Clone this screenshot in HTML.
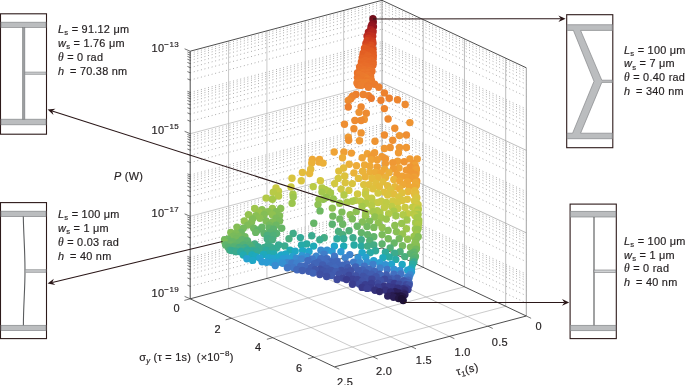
<!DOCTYPE html>
<html lang="en"><head><meta charset="utf-8"><title>Pareto front</title>
<style>
html,body{margin:0;padding:0;background:#fff}
body{width:685px;height:385px;overflow:hidden}
svg{display:block}
text{font-family:"Liberation Sans",Arial,Helvetica,sans-serif;font-size:10.9px;fill:#231f20;letter-spacing:0.26px;stroke:#231f20;stroke-width:0.18px}
.i{font-style:italic}
.th{font-family:"Liberation Serif","DejaVu Serif",serif;font-style:italic;font-size:11.5px}
.sb{font-size:7.6px}
.ex{font-size:8px;letter-spacing:0.4px}
.tl{font-size:11px}
.dot{stroke:#9a9a9a;stroke-width:0.9;stroke-dasharray:0.9 2.8;fill:none}
.g{stroke:#bdbdbd;stroke-width:0.8}
.gr{stroke:#a2a2a2;stroke-width:0.7}
.g2{stroke:#a8a8a8;stroke-width:0.6}
.g3{stroke:#8c8c8c;stroke-width:0.8}
.ax{stroke:#3a3a3a;stroke-width:0.9}
.tk{stroke:#3a3a3a;stroke-width:0.7;fill:none}
.bx{fill:#fff;stroke:#2d1a1a;stroke-width:1.1}
.ar{stroke:#2a1718;stroke-width:1.05}
</style></head><body>
<svg width="685" height="385" viewBox="0 0 685 385">
<rect width="685" height="385" fill="#fff"/>
<g id="grid">
<path class="dot" d="M190.2 80.04L382 29.14M190.2 72.78L382 21.88M190.2 67.62L382 16.72M190.2 63.62L382 12.72M190.2 60.35L382 9.45M190.2 57.59L382 6.69M190.2 55.2L382 4.3M190.2 53.09L382 2.19M190.2 92.47L382 41.57M190.2 121.31L382 70.41M190.2 114.04L382 63.14M190.2 108.89L382 57.99M190.2 104.89L382 53.99M190.2 101.62L382 50.72M190.2 98.86L382 47.96M190.2 96.47L382 45.57M190.2 94.35L382 43.45M190.2 162.58L382 111.68M190.2 155.31L382 104.41M190.2 150.15L382 99.25M190.2 146.16L382 95.26M190.2 142.89L382 91.99M190.2 140.13L382 89.23M190.2 137.73L382 86.83M190.2 135.62L382 84.72M190.2 175L382 124.1M190.2 203.84L382 152.94M190.2 196.58L382 145.68M190.2 191.42L382 140.52M190.2 187.42L382 136.52M190.2 184.15L382 133.25M190.2 181.39L382 130.49M190.2 179L382 128.1M190.2 176.89L382 125.99M190.2 245.11L382 194.21M190.2 237.84L382 186.94M190.2 232.69L382 181.79M190.2 228.69L382 177.79M190.2 225.42L382 174.52M190.2 222.66L382 171.76M190.2 220.27L382 169.37M190.2 218.15L382 167.25M190.2 257.53L382 206.63M190.2 286.38L382 235.48M190.2 279.11L382 228.21M190.2 273.95L382 223.05M190.2 269.96L382 219.06M190.2 266.69L382 215.79M190.2 263.93L382 213.03M190.2 261.53L382 210.63M190.2 259.42L382 208.52"/>
<path class="dot" d="M382 29.14L526.3 96.64M382 21.88L526.3 89.38M382 16.72L526.3 84.22M382 12.72L526.3 80.22M382 9.45L526.3 76.95M382 6.69L526.3 74.19M382 4.3L526.3 71.8M382 2.19L526.3 69.69M382 41.57L526.3 109.07M382 70.41L526.3 137.91M382 63.14L526.3 130.64M382 57.99L526.3 125.49M382 53.99L526.3 121.49M382 50.72L526.3 118.22M382 47.96L526.3 115.46M382 45.57L526.3 113.07M382 43.45L526.3 110.95M382 111.68L526.3 179.18M382 104.41L526.3 171.91M382 99.25L526.3 166.75M382 95.26L526.3 162.76M382 91.99L526.3 159.49M382 89.23L526.3 156.73M382 86.83L526.3 154.33M382 84.72L526.3 152.22M382 124.1L526.3 191.6M382 152.94L526.3 220.44M382 145.68L526.3 213.18M382 140.52L526.3 208.02M382 136.52L526.3 204.02M382 133.25L526.3 200.75M382 130.49L526.3 197.99M382 128.1L526.3 195.6M382 125.99L526.3 193.49M382 194.21L526.3 261.71M382 186.94L526.3 254.44M382 181.79L526.3 249.29M382 177.79L526.3 245.29M382 174.52L526.3 242.02M382 171.76L526.3 239.26M382 169.37L526.3 236.87M382 167.25L526.3 234.75M382 206.63L526.3 274.13M382 235.48L526.3 302.98M382 228.21L526.3 295.71M382 223.05L526.3 290.55M382 219.06L526.3 286.56M382 215.79L526.3 283.29M382 213.03L526.3 280.53M382 210.63L526.3 278.13M382 208.52L526.3 276.02"/>
<line x1="190.2" y1="133.73" x2="382" y2="82.83" class="g"/>
<line x1="382" y1="82.83" x2="526.3" y2="150.33" class="gr"/>
<line x1="190.2" y1="216.27" x2="382" y2="165.37" class="g"/>
<line x1="382" y1="165.37" x2="526.3" y2="232.87" class="gr"/>
<line x1="343.64" y1="10.48" x2="343.64" y2="258.08" class="g"/>
<line x1="343.64" y1="258.08" x2="487.94" y2="326.18" class="g2"/>
<line x1="305.28" y1="20.66" x2="305.28" y2="268.26" class="g"/>
<line x1="305.28" y1="268.26" x2="449.58" y2="336.36" class="g2"/>
<line x1="266.92" y1="30.84" x2="266.92" y2="278.44" class="g"/>
<line x1="266.92" y1="278.44" x2="411.22" y2="346.54" class="g2"/>
<line x1="228.56" y1="41.02" x2="228.56" y2="288.62" class="g"/>
<line x1="228.56" y1="288.62" x2="372.86" y2="356.72" class="g2"/>
<line x1="423.23" y1="19.59" x2="423.23" y2="267.36" class="gr"/>
<line x1="423.23" y1="267.36" x2="231.43" y2="318.26" class="g2"/>
<line x1="464.46" y1="38.87" x2="464.46" y2="286.81" class="gr"/>
<line x1="464.46" y1="286.81" x2="272.66" y2="337.71" class="g2"/>
<line x1="505.69" y1="58.16" x2="505.69" y2="306.27" class="gr"/>
<line x1="505.69" y1="306.27" x2="313.89" y2="357.17" class="g2"/>
<line x1="382" y1="0.3" x2="382" y2="247.9" class="g3"/>
<line x1="526.3" y1="67.8" x2="526.3" y2="316" class="g3"/>
<line x1="190.2" y1="51.2" x2="382" y2="0.3" class="ax"/>
<line x1="382" y1="0.3" x2="526.3" y2="67.8" class="ax"/>
<line x1="190.2" y1="298.8" x2="382" y2="247.9" class="ax"/>
<line x1="382" y1="247.9" x2="526.3" y2="316" class="ax"/>
<line x1="190.2" y1="298.8" x2="334.5" y2="366.9" class="ax"/>
<line x1="526.3" y1="316" x2="334.5" y2="366.9" class="ax"/>
<line x1="190.2" y1="51.2" x2="190.2" y2="298.8" class="ax"/>
<path class="tk" d="M190.2 51.2l-5.6 -2.4M190.2 80.04l-2.8 -1.2M190.2 72.78l-2.8 -1.2M190.2 67.62l-2.8 -1.2M190.2 63.62l-2.8 -1.2M190.2 60.35l-2.8 -1.2M190.2 57.59l-2.8 -1.2M190.2 55.2l-2.8 -1.2M190.2 53.09l-2.8 -1.2M190.2 92.47l-2.8 -1.2M190.2 121.31l-2.8 -1.2M190.2 114.04l-2.8 -1.2M190.2 108.89l-2.8 -1.2M190.2 104.89l-2.8 -1.2M190.2 101.62l-2.8 -1.2M190.2 98.86l-2.8 -1.2M190.2 96.47l-2.8 -1.2M190.2 94.35l-2.8 -1.2M190.2 133.73l-5.6 -2.4M190.2 162.58l-2.8 -1.2M190.2 155.31l-2.8 -1.2M190.2 150.15l-2.8 -1.2M190.2 146.16l-2.8 -1.2M190.2 142.89l-2.8 -1.2M190.2 140.13l-2.8 -1.2M190.2 137.73l-2.8 -1.2M190.2 135.62l-2.8 -1.2M190.2 175l-2.8 -1.2M190.2 203.84l-2.8 -1.2M190.2 196.58l-2.8 -1.2M190.2 191.42l-2.8 -1.2M190.2 187.42l-2.8 -1.2M190.2 184.15l-2.8 -1.2M190.2 181.39l-2.8 -1.2M190.2 179l-2.8 -1.2M190.2 176.89l-2.8 -1.2M190.2 216.27l-5.6 -2.4M190.2 245.11l-2.8 -1.2M190.2 237.84l-2.8 -1.2M190.2 232.69l-2.8 -1.2M190.2 228.69l-2.8 -1.2M190.2 225.42l-2.8 -1.2M190.2 222.66l-2.8 -1.2M190.2 220.27l-2.8 -1.2M190.2 218.15l-2.8 -1.2M190.2 257.53l-2.8 -1.2M190.2 286.38l-2.8 -1.2M190.2 279.11l-2.8 -1.2M190.2 273.95l-2.8 -1.2M190.2 269.96l-2.8 -1.2M190.2 266.69l-2.8 -1.2M190.2 263.93l-2.8 -1.2M190.2 261.53l-2.8 -1.2M190.2 259.42l-2.8 -1.2M190.2 298.8l-5.6 -2.4"/>
<path class="tk" d="M190.2 298.8l-5.8 1.6M231.43 318.26l-5.8 1.6M272.66 337.71l-5.8 1.6M313.89 357.17l-5.8 1.6M526.3 316l4.8 2.3M487.94 326.18l4.8 2.3M449.58 336.36l4.8 2.3M411.22 346.54l4.8 2.3M372.86 356.72l4.8 2.3M334.5 366.9l4.8 2.3"/>
</g>
<g id="scatter">
<circle cx="372.9" cy="18.8" r="3.7" fill="#720e1b"/>
<circle cx="373.3" cy="21.9" r="3.7" fill="#7c111d"/>
<circle cx="371.9" cy="24.6" r="3.7" fill="#8d141f"/>
<circle cx="373.4" cy="26.7" r="3.7" fill="#941620"/>
<circle cx="371.0" cy="26.9" r="3.7" fill="#961621"/>
<circle cx="370.8" cy="29.6" r="3.7" fill="#ab2021"/>
<circle cx="373.1" cy="31.7" r="3.7" fill="#b32620"/>
<circle cx="368.4" cy="32.1" r="3.7" fill="#ac2121"/>
<circle cx="370.8" cy="33.0" r="3.7" fill="#b62820"/>
<circle cx="369.3" cy="35.7" r="3.7" fill="#c2301f"/>
<circle cx="367.0" cy="36.1" r="3.7" fill="#ba2b20"/>
<circle cx="372.7" cy="36.2" r="3.7" fill="#c02f20"/>
<circle cx="371.3" cy="38.3" r="3.7" fill="#c4311f"/>
<circle cx="368.3" cy="38.3" r="3.7" fill="#c9361f"/>
<circle cx="369.5" cy="40.8" r="3.7" fill="#cd3b20"/>
<circle cx="367.1" cy="40.8" r="3.7" fill="#d04120"/>
<circle cx="372.6" cy="40.9" r="3.7" fill="#cc3b20"/>
<circle cx="370.4" cy="43.0" r="3.7" fill="#cf3f20"/>
<circle cx="372.9" cy="43.3" r="3.7" fill="#d24320"/>
<circle cx="365.9" cy="43.4" r="3.7" fill="#d14320"/>
<circle cx="368.1" cy="44.2" r="3.7" fill="#d34620"/>
<circle cx="371.1" cy="45.2" r="3.7" fill="#d94e21"/>
<circle cx="366.2" cy="46.1" r="3.7" fill="#d74b21"/>
<circle cx="368.4" cy="47.5" r="3.7" fill="#da5121"/>
<circle cx="370.7" cy="47.8" r="3.7" fill="#dc5422"/>
<circle cx="364.5" cy="48.3" r="3.7" fill="#df5922"/>
<circle cx="373.0" cy="48.9" r="3.7" fill="#da5021"/>
<circle cx="366.7" cy="49.5" r="3.7" fill="#df5822"/>
<circle cx="371.0" cy="51.0" r="3.7" fill="#df5922"/>
<circle cx="364.8" cy="51.3" r="3.7" fill="#df5922"/>
<circle cx="373.1" cy="52.7" r="3.7" fill="#e05b22"/>
<circle cx="367.2" cy="52.8" r="3.7" fill="#e15b23"/>
<circle cx="363.2" cy="53.1" r="3.7" fill="#e25f24"/>
<circle cx="370.2" cy="54.0" r="3.7" fill="#e15d23"/>
<circle cx="365.4" cy="54.5" r="3.7" fill="#e36024"/>
<circle cx="373.2" cy="55.6" r="3.7" fill="#e25e23"/>
<circle cx="362.9" cy="55.7" r="3.7" fill="#e25f24"/>
<circle cx="367.8" cy="55.7" r="3.7" fill="#e46426"/>
<circle cx="369.8" cy="57.3" r="3.7" fill="#e56626"/>
<circle cx="365.8" cy="58.0" r="3.7" fill="#e56727"/>
<circle cx="373.2" cy="58.0" r="3.7" fill="#e36125"/>
<circle cx="362.2" cy="58.1" r="3.7" fill="#e56526"/>
<circle cx="368.0" cy="58.8" r="3.7" fill="#e56526"/>
<circle cx="365.6" cy="60.3" r="3.7" fill="#e66928"/>
<circle cx="371.2" cy="60.3" r="3.7" fill="#e66727"/>
<circle cx="368.8" cy="61.5" r="3.7" fill="#e76a28"/>
<circle cx="361.4" cy="61.9" r="3.7" fill="#e76a28"/>
<circle cx="373.2" cy="62.5" r="3.7" fill="#e66827"/>
<circle cx="364.9" cy="63.4" r="3.7" fill="#e76b28"/>
<circle cx="368.8" cy="63.8" r="3.7" fill="#e76928"/>
<circle cx="372.9" cy="65.2" r="3.7" fill="#e76b28"/>
<circle cx="361.3" cy="65.3" r="3.7" fill="#e76a28"/>
<circle cx="364.0" cy="65.7" r="3.7" fill="#e86c29"/>
<circle cx="370.3" cy="65.8" r="3.7" fill="#e76a28"/>
<circle cx="366.5" cy="65.9" r="3.7" fill="#e86d29"/>
<circle cx="359.6" cy="66.9" r="3.7" fill="#e9702a"/>
<circle cx="362.0" cy="68.5" r="3.7" fill="#e96e2a"/>
<circle cx="370.7" cy="68.5" r="3.7" fill="#e86d29"/>
<circle cx="368.1" cy="68.7" r="3.7" fill="#e96e2a"/>
<circle cx="364.0" cy="69.7" r="3.7" fill="#ea722b"/>
<circle cx="359.8" cy="70.7" r="3.7" fill="#e9712a"/>
<circle cx="369.4" cy="70.7" r="3.7" fill="#ea742b"/>
<circle cx="365.9" cy="71.2" r="3.7" fill="#e9722b"/>
<circle cx="372.0" cy="71.2" r="3.7" fill="#e9722b"/>
<circle cx="367.9" cy="72.5" r="3.7" fill="#ea762c"/>
<circle cx="362.6" cy="72.6" r="3.7" fill="#eb772c"/>
<circle cx="357.5" cy="73.0" r="3.7" fill="#e9722b"/>
<circle cx="370.4" cy="74.3" r="3.7" fill="#ea722b"/>
<circle cx="359.4" cy="74.3" r="3.7" fill="#eb782c"/>
<circle cx="364.1" cy="74.4" r="3.7" fill="#ea742b"/>
<circle cx="368.1" cy="75.3" r="3.7" fill="#eb772c"/>
<circle cx="362.2" cy="75.8" r="3.7" fill="#eb792d"/>
<circle cx="359.8" cy="76.7" r="3.7" fill="#eb792c"/>
<circle cx="370.7" cy="76.9" r="3.7" fill="#ea762c"/>
<circle cx="357.4" cy="77.6" r="3.7" fill="#ea752c"/>
<circle cx="365.8" cy="77.6" r="3.7" fill="#eb7c2d"/>
<circle cx="363.0" cy="78.2" r="3.7" fill="#eb792c"/>
<circle cx="367.4" cy="79.3" r="3.7" fill="#ec7d2d"/>
<circle cx="359.2" cy="80.0" r="3.7" fill="#eb792c"/>
<circle cx="371.0" cy="80.2" r="3.7" fill="#eb7b2d"/>
<circle cx="361.7" cy="80.6" r="3.7" fill="#eb792c"/>
<circle cx="365.7" cy="81.0" r="3.7" fill="#eb782c"/>
<circle cx="371.5" cy="81.0" r="3.7" fill="#eb7b2d"/>
<circle cx="366.3" cy="82.1" r="3.7" fill="#eb792d"/>
<circle cx="363.7" cy="82.4" r="3.7" fill="#ec7e2e"/>
<circle cx="367.5" cy="82.5" r="3.7" fill="#ec7f2e"/>
<circle cx="357.4" cy="82.7" r="3.7" fill="#eb7b2d"/>
<circle cx="360.7" cy="82.8" r="3.7" fill="#ec7f2e"/>
<circle cx="357.0" cy="83.1" r="3.7" fill="#ec7e2e"/>
<circle cx="370.2" cy="84.1" r="3.7" fill="#ec7e2e"/>
<circle cx="374.6" cy="84.2" r="3.7" fill="#eb7c2d"/>
<circle cx="365.2" cy="84.3" r="3.7" fill="#ec802e"/>
<circle cx="362.4" cy="84.7" r="3.7" fill="#ec812e"/>
<circle cx="358.1" cy="85.0" r="3.7" fill="#eb7b2d"/>
<circle cx="361.1" cy="85.2" r="3.7" fill="#ec7f2e"/>
<circle cx="367.8" cy="85.5" r="3.7" fill="#eb7c2d"/>
<circle cx="368.4" cy="87.3" r="3.7" fill="#ec7d2e"/>
<circle cx="378.8" cy="87.3" r="3.7" fill="#ec7f2e"/>
<circle cx="384.4" cy="92.9" r="3.7" fill="#ec812e"/>
<circle cx="363.2" cy="94.5" r="3.7" fill="#ec822f"/>
<circle cx="355.9" cy="94.5" r="3.7" fill="#ec7f2e"/>
<circle cx="368.4" cy="95.6" r="3.7" fill="#ec812e"/>
<circle cx="352.5" cy="96.2" r="3.7" fill="#ec822f"/>
<circle cx="389.2" cy="98.3" r="3.7" fill="#ec802e"/>
<circle cx="371.2" cy="98.3" r="3.7" fill="#eb792c"/>
<circle cx="350.8" cy="98.7" r="3.7" fill="#ed842f"/>
<circle cx="397.5" cy="99.7" r="3.7" fill="#ed852f"/>
<circle cx="380.9" cy="100.3" r="3.7" fill="#ec7f2e"/>
<circle cx="348.3" cy="100.4" r="3.7" fill="#ed8a30"/>
<circle cx="405.2" cy="104.5" r="3.7" fill="#ed8a30"/>
<circle cx="348.3" cy="107.0" r="3.7" fill="#ec7f2e"/>
<circle cx="361.1" cy="107.0" r="3.7" fill="#ed872f"/>
<circle cx="384.4" cy="108.6" r="3.7" fill="#ed852f"/>
<circle cx="359.1" cy="112.2" r="3.7" fill="#ee9232"/>
<circle cx="366.3" cy="113.2" r="3.7" fill="#ed8b30"/>
<circle cx="388.1" cy="119.0" r="3.7" fill="#ed8830"/>
<circle cx="364.3" cy="119.4" r="3.7" fill="#ee9332"/>
<circle cx="361.1" cy="120.5" r="3.7" fill="#ed8a30"/>
<circle cx="354.9" cy="120.5" r="3.7" fill="#ee8b30"/>
<circle cx="409.9" cy="122.6" r="3.7" fill="#ee9432"/>
<circle cx="344.5" cy="124.2" r="3.7" fill="#ee8e31"/>
<circle cx="394.8" cy="128.2" r="3.7" fill="#ee8f31"/>
<circle cx="353.9" cy="128.8" r="3.7" fill="#ee8e31"/>
<circle cx="361.1" cy="132.9" r="3.7" fill="#ee9432"/>
<circle cx="384.4" cy="135.0" r="3.7" fill="#ee8d31"/>
<circle cx="406.4" cy="135.0" r="3.7" fill="#ee8e31"/>
<circle cx="399.5" cy="135.6" r="3.7" fill="#ef9733"/>
<circle cx="348.3" cy="137.1" r="3.7" fill="#ef9b34"/>
<circle cx="392.7" cy="140.2" r="3.7" fill="#ee9031"/>
<circle cx="348.7" cy="140.2" r="3.7" fill="#ee9131"/>
<circle cx="359.5" cy="140.8" r="3.7" fill="#ef9934"/>
<circle cx="375.0" cy="141.2" r="3.7" fill="#ee9432"/>
<circle cx="390.2" cy="147.5" r="3.7" fill="#ee9432"/>
<circle cx="399.5" cy="147.5" r="3.7" fill="#ef9833"/>
<circle cx="406.4" cy="147.5" r="3.7" fill="#ef9733"/>
<circle cx="384.4" cy="148.5" r="3.7" fill="#ef9833"/>
<circle cx="334.2" cy="152.0" r="3.7" fill="#efa436"/>
<circle cx="343.9" cy="152.0" r="3.7" fill="#ef9f35"/>
<circle cx="398.5" cy="152.7" r="3.7" fill="#ef9a34"/>
<circle cx="374.6" cy="152.7" r="3.7" fill="#ef9a34"/>
<circle cx="351.4" cy="153.1" r="3.7" fill="#ef9d34"/>
<circle cx="367.4" cy="153.7" r="3.7" fill="#efa235"/>
<circle cx="381.9" cy="156.8" r="3.7" fill="#ef9934"/>
<circle cx="371.5" cy="156.8" r="3.7" fill="#ef9934"/>
<circle cx="362.2" cy="157.8" r="3.7" fill="#efa436"/>
<circle cx="342.5" cy="157.8" r="3.7" fill="#edac38"/>
<circle cx="385.5" cy="158.7" r="3.7" fill="#ef9733"/>
<circle cx="409.9" cy="158.9" r="3.7" fill="#ef9c34"/>
<circle cx="417.2" cy="158.9" r="3.7" fill="#ef9d35"/>
<circle cx="312.3" cy="159.5" r="3.7" fill="#eea937"/>
<circle cx="319.5" cy="159.5" r="3.7" fill="#efa636"/>
<circle cx="371.2" cy="159.6" r="3.7" fill="#efa436"/>
<circle cx="377.2" cy="159.7" r="3.7" fill="#ef9f35"/>
<circle cx="397.6" cy="161.2" r="3.7" fill="#ef9d35"/>
<circle cx="404.2" cy="161.8" r="3.7" fill="#ef9533"/>
<circle cx="319.0" cy="162.1" r="3.7" fill="#edab38"/>
<circle cx="392.8" cy="162.8" r="3.7" fill="#ef9834"/>
<circle cx="311.7" cy="163.1" r="3.7" fill="#ebb139"/>
<circle cx="323.1" cy="163.1" r="3.7" fill="#ebb039"/>
<circle cx="413.7" cy="163.4" r="3.7" fill="#ef9833"/>
<circle cx="385.4" cy="163.6" r="3.7" fill="#ef9a34"/>
<circle cx="349.2" cy="164.2" r="3.7" fill="#ebaf39"/>
<circle cx="364.6" cy="165.0" r="3.7" fill="#edaa37"/>
<circle cx="415.1" cy="165.2" r="3.7" fill="#efa035"/>
<circle cx="356.5" cy="165.8" r="3.7" fill="#edac38"/>
<circle cx="369.9" cy="165.9" r="3.7" fill="#eea837"/>
<circle cx="377.2" cy="167.0" r="3.7" fill="#efa035"/>
<circle cx="410.2" cy="167.0" r="3.7" fill="#ef9633"/>
<circle cx="343.6" cy="168.0" r="3.7" fill="#e4bb3c"/>
<circle cx="399.0" cy="168.0" r="3.7" fill="#efa235"/>
<circle cx="416.1" cy="168.2" r="3.7" fill="#ef9833"/>
<circle cx="415.6" cy="168.3" r="3.7" fill="#ef9a34"/>
<circle cx="393.5" cy="168.5" r="3.7" fill="#ef9d35"/>
<circle cx="384.5" cy="169.1" r="3.7" fill="#eea736"/>
<circle cx="310.7" cy="169.3" r="3.7" fill="#e4bb3c"/>
<circle cx="416.3" cy="169.6" r="3.7" fill="#efa035"/>
<circle cx="406.3" cy="170.1" r="3.7" fill="#ef9934"/>
<circle cx="338.8" cy="171.1" r="3.7" fill="#dfbf3d"/>
<circle cx="362.6" cy="171.2" r="3.7" fill="#eab239"/>
<circle cx="415.9" cy="171.8" r="3.7" fill="#ef9f35"/>
<circle cx="369.9" cy="172.1" r="3.7" fill="#ecae38"/>
<circle cx="375.4" cy="172.3" r="3.7" fill="#ecac38"/>
<circle cx="410.8" cy="172.3" r="3.7" fill="#ef9833"/>
<circle cx="302.4" cy="172.5" r="3.7" fill="#e3bc3c"/>
<circle cx="389.0" cy="172.8" r="3.7" fill="#ecae38"/>
<circle cx="353.9" cy="172.9" r="3.7" fill="#eab23a"/>
<circle cx="381.1" cy="173.0" r="3.7" fill="#efa736"/>
<circle cx="309.6" cy="173.5" r="3.7" fill="#e6b83b"/>
<circle cx="416.0" cy="174.0" r="3.7" fill="#efa035"/>
<circle cx="414.8" cy="174.4" r="3.7" fill="#ef9834"/>
<circle cx="396.9" cy="174.5" r="3.7" fill="#efa035"/>
<circle cx="344.7" cy="176.0" r="3.7" fill="#dcc23e"/>
<circle cx="402.1" cy="176.3" r="3.7" fill="#efa135"/>
<circle cx="365.2" cy="176.8" r="3.7" fill="#eab23a"/>
<circle cx="407.4" cy="176.9" r="3.7" fill="#ef9f35"/>
<circle cx="414.5" cy="177.1" r="3.7" fill="#efa035"/>
<circle cx="378.2" cy="177.4" r="3.7" fill="#e8b53a"/>
<circle cx="385.5" cy="177.4" r="3.7" fill="#eab139"/>
<circle cx="292.0" cy="178.3" r="3.7" fill="#d8c43f"/>
<circle cx="338.2" cy="178.4" r="3.7" fill="#d4c740"/>
<circle cx="358.5" cy="178.4" r="3.7" fill="#e3bc3c"/>
<circle cx="372.0" cy="178.4" r="3.7" fill="#e5b93b"/>
<circle cx="412.4" cy="178.6" r="3.7" fill="#ef9c34"/>
<circle cx="393.8" cy="179.4" r="3.7" fill="#e9b33a"/>
<circle cx="416.5" cy="180.6" r="3.7" fill="#ef9d35"/>
<circle cx="301.3" cy="180.8" r="3.7" fill="#d9c43f"/>
<circle cx="320.4" cy="180.8" r="3.7" fill="#d4c740"/>
<circle cx="399.8" cy="181.0" r="3.7" fill="#efa636"/>
<circle cx="416.7" cy="181.7" r="3.7" fill="#ef9f35"/>
<circle cx="407.4" cy="181.8" r="3.7" fill="#efa536"/>
<circle cx="382.9" cy="181.9" r="3.7" fill="#e2bd3d"/>
<circle cx="345.2" cy="182.7" r="3.7" fill="#dac33f"/>
<circle cx="415.6" cy="182.8" r="3.7" fill="#eea937"/>
<circle cx="375.8" cy="183.2" r="3.7" fill="#e1be3d"/>
<circle cx="334.6" cy="183.6" r="3.7" fill="#d2c841"/>
<circle cx="352.3" cy="183.6" r="3.7" fill="#d9c43f"/>
<circle cx="363.7" cy="184.6" r="3.7" fill="#dcc23e"/>
<circle cx="403.1" cy="184.6" r="3.7" fill="#eea837"/>
<circle cx="369.0" cy="184.7" r="3.7" fill="#e0bf3d"/>
<circle cx="416.3" cy="185.2" r="3.7" fill="#edab37"/>
<circle cx="387.6" cy="185.7" r="3.7" fill="#e2bc3c"/>
<circle cx="409.4" cy="186.6" r="3.7" fill="#eea736"/>
<circle cx="313.2" cy="186.6" r="3.7" fill="#bacb46"/>
<circle cx="379.3" cy="186.7" r="3.7" fill="#e3bc3c"/>
<circle cx="394.8" cy="186.7" r="3.7" fill="#e6b83b"/>
<circle cx="415.2" cy="186.8" r="3.7" fill="#ecaf39"/>
<circle cx="291.0" cy="187.0" r="3.7" fill="#cac943"/>
<circle cx="414.5" cy="187.0" r="3.7" fill="#eea736"/>
<circle cx="276.0" cy="188.0" r="3.7" fill="#cac943"/>
<circle cx="322.1" cy="188.0" r="3.7" fill="#b2ca48"/>
<circle cx="399.6" cy="188.7" r="3.7" fill="#ebb039"/>
<circle cx="373.0" cy="188.8" r="3.7" fill="#dec03d"/>
<circle cx="341.0" cy="189.1" r="3.7" fill="#cdc942"/>
<circle cx="390.5" cy="189.7" r="3.7" fill="#ddc13e"/>
<circle cx="325.3" cy="189.8" r="3.7" fill="#afca49"/>
<circle cx="348.9" cy="190.4" r="3.7" fill="#d2c841"/>
<circle cx="414.8" cy="190.7" r="3.7" fill="#e6b93b"/>
<circle cx="365.8" cy="190.9" r="3.7" fill="#d2c841"/>
<circle cx="278.5" cy="191.1" r="3.7" fill="#c1cb45"/>
<circle cx="328.3" cy="191.1" r="3.7" fill="#aec949"/>
<circle cx="408.0" cy="191.5" r="3.7" fill="#e7b73b"/>
<circle cx="321.9" cy="192.1" r="3.7" fill="#a2c74c"/>
<circle cx="384.2" cy="192.1" r="3.7" fill="#dfc03d"/>
<circle cx="273.3" cy="192.2" r="3.7" fill="#b8ca47"/>
<circle cx="415.7" cy="192.9" r="3.7" fill="#e2bc3c"/>
<circle cx="330.5" cy="192.9" r="3.7" fill="#a4c84b"/>
<circle cx="402.1" cy="192.9" r="3.7" fill="#e0bf3d"/>
<circle cx="378.0" cy="193.1" r="3.7" fill="#d2c841"/>
<circle cx="357.5" cy="194.0" r="3.7" fill="#d2c841"/>
<circle cx="393.8" cy="194.0" r="3.7" fill="#e2bd3d"/>
<circle cx="365.5" cy="194.2" r="3.7" fill="#c4ca44"/>
<circle cx="414.6" cy="194.2" r="3.7" fill="#e4ba3c"/>
<circle cx="293.0" cy="194.3" r="3.7" fill="#a8c94a"/>
<circle cx="415.5" cy="194.5" r="3.7" fill="#e2bd3c"/>
<circle cx="344.0" cy="195.0" r="3.7" fill="#b3ca48"/>
<circle cx="387.6" cy="195.0" r="3.7" fill="#dbc23e"/>
<circle cx="278.6" cy="196.0" r="3.7" fill="#b7ca47"/>
<circle cx="398.7" cy="196.9" r="3.7" fill="#dbc33e"/>
<circle cx="293.2" cy="197.1" r="3.7" fill="#9cc54d"/>
<circle cx="326.3" cy="197.4" r="3.7" fill="#98c44e"/>
<circle cx="416.8" cy="197.8" r="3.7" fill="#dac33f"/>
<circle cx="266.1" cy="198.1" r="3.7" fill="#b3ca48"/>
<circle cx="367.8" cy="198.1" r="3.7" fill="#c9c943"/>
<circle cx="371.7" cy="198.3" r="3.7" fill="#c4ca44"/>
<circle cx="333.3" cy="199.0" r="3.7" fill="#97c44e"/>
<circle cx="272.4" cy="199.2" r="3.7" fill="#a6c84b"/>
<circle cx="323.2" cy="199.2" r="3.7" fill="#92c250"/>
<circle cx="407.3" cy="199.2" r="3.7" fill="#ddc13e"/>
<circle cx="319.0" cy="199.4" r="3.7" fill="#97c44e"/>
<circle cx="415.2" cy="200.2" r="3.7" fill="#d8c43f"/>
<circle cx="355.1" cy="200.4" r="3.7" fill="#b9ca46"/>
<circle cx="402.3" cy="200.5" r="3.7" fill="#d9c43f"/>
<circle cx="414.4" cy="200.8" r="3.7" fill="#d8c53f"/>
<circle cx="392.8" cy="200.9" r="3.7" fill="#d2c841"/>
<circle cx="352.3" cy="201.2" r="3.7" fill="#acc949"/>
<circle cx="360.6" cy="201.2" r="3.7" fill="#b9ca46"/>
<circle cx="381.3" cy="201.2" r="3.7" fill="#c6ca44"/>
<circle cx="347.1" cy="202.3" r="3.7" fill="#a9c94a"/>
<circle cx="373.0" cy="202.3" r="3.7" fill="#bbcb46"/>
<circle cx="416.3" cy="202.3" r="3.7" fill="#d2c841"/>
<circle cx="397.6" cy="202.4" r="3.7" fill="#d3c741"/>
<circle cx="378.0" cy="202.5" r="3.7" fill="#c5ca44"/>
<circle cx="386.3" cy="202.5" r="3.7" fill="#bfcb45"/>
<circle cx="366.0" cy="203.2" r="3.7" fill="#b0ca48"/>
<circle cx="339.7" cy="203.3" r="3.7" fill="#9ac54d"/>
<circle cx="292.1" cy="203.3" r="3.7" fill="#9bc54d"/>
<circle cx="318.0" cy="204.6" r="3.7" fill="#8ec152"/>
<circle cx="418.1" cy="204.8" r="3.7" fill="#cac943"/>
<circle cx="416.3" cy="205.3" r="3.7" fill="#d4c741"/>
<circle cx="371.7" cy="205.6" r="3.7" fill="#b6ca47"/>
<circle cx="391.7" cy="206.4" r="3.7" fill="#bdcb46"/>
<circle cx="362.1" cy="206.5" r="3.7" fill="#a4c84b"/>
<circle cx="412.7" cy="207.3" r="3.7" fill="#becb45"/>
<circle cx="384.5" cy="207.5" r="3.7" fill="#c0cb45"/>
<circle cx="405.2" cy="207.5" r="3.7" fill="#cbc942"/>
<circle cx="416.2" cy="207.8" r="3.7" fill="#ccc942"/>
<circle cx="332.3" cy="208.1" r="3.7" fill="#8fc151"/>
<circle cx="398.0" cy="208.5" r="3.7" fill="#c5ca44"/>
<circle cx="254.7" cy="208.5" r="3.7" fill="#9fc64c"/>
<circle cx="272.4" cy="208.5" r="3.7" fill="#98c44e"/>
<circle cx="280.7" cy="208.5" r="3.7" fill="#88bf54"/>
<circle cx="418.3" cy="209.0" r="3.7" fill="#c0cb45"/>
<circle cx="262.0" cy="209.6" r="3.7" fill="#8bc053"/>
<circle cx="417.9" cy="210.2" r="3.7" fill="#b2ca48"/>
<circle cx="377.2" cy="210.6" r="3.7" fill="#acc949"/>
<circle cx="320.0" cy="210.9" r="3.7" fill="#6fb861"/>
<circle cx="393.8" cy="211.3" r="3.7" fill="#a9c94a"/>
<circle cx="356.2" cy="211.4" r="3.7" fill="#8cc053"/>
<circle cx="373.0" cy="211.6" r="3.7" fill="#a6c84b"/>
<circle cx="268.2" cy="211.6" r="3.7" fill="#8bc053"/>
<circle cx="276.1" cy="211.6" r="3.7" fill="#83bd56"/>
<circle cx="258.9" cy="212.0" r="3.7" fill="#99c44e"/>
<circle cx="341.9" cy="212.1" r="3.7" fill="#7fbc58"/>
<circle cx="417.0" cy="212.2" r="3.7" fill="#c0cb45"/>
<circle cx="365.8" cy="212.7" r="3.7" fill="#9bc54d"/>
<circle cx="380.0" cy="212.8" r="3.7" fill="#abc949"/>
<circle cx="407.9" cy="213.6" r="3.7" fill="#c2cb44"/>
<circle cx="413.9" cy="213.6" r="3.7" fill="#b7ca47"/>
<circle cx="388.6" cy="213.7" r="3.7" fill="#b0ca49"/>
<circle cx="418.1" cy="214.4" r="3.7" fill="#a7c84b"/>
<circle cx="350.2" cy="214.7" r="3.7" fill="#8ec152"/>
<circle cx="403.1" cy="214.7" r="3.7" fill="#b1ca48"/>
<circle cx="248.5" cy="214.8" r="3.7" fill="#93c250"/>
<circle cx="264.1" cy="214.8" r="3.7" fill="#84bd56"/>
<circle cx="272.4" cy="214.8" r="3.7" fill="#8fc151"/>
<circle cx="415.1" cy="215.7" r="3.7" fill="#bbcb46"/>
<circle cx="395.9" cy="215.8" r="3.7" fill="#9ec64d"/>
<circle cx="255.7" cy="215.8" r="3.7" fill="#8abf54"/>
<circle cx="279.6" cy="215.8" r="3.7" fill="#82bd57"/>
<circle cx="365.5" cy="215.9" r="3.7" fill="#97c44e"/>
<circle cx="332.8" cy="216.1" r="3.7" fill="#71b860"/>
<circle cx="374.8" cy="217.0" r="3.7" fill="#90c151"/>
<circle cx="417.1" cy="217.7" r="3.7" fill="#a6c84b"/>
<circle cx="381.3" cy="217.8" r="3.7" fill="#9ec64d"/>
<circle cx="259.9" cy="218.3" r="3.7" fill="#8bc053"/>
<circle cx="276.1" cy="218.3" r="3.7" fill="#7dbb5a"/>
<circle cx="352.3" cy="218.9" r="3.7" fill="#7cbb5a"/>
<circle cx="339.8" cy="218.9" r="3.7" fill="#72b860"/>
<circle cx="252.6" cy="218.9" r="3.7" fill="#82bd57"/>
<circle cx="386.3" cy="219.1" r="3.7" fill="#9ac44e"/>
<circle cx="407.0" cy="220.0" r="3.7" fill="#9fc64c"/>
<circle cx="418.8" cy="220.1" r="3.7" fill="#a7c84b"/>
<circle cx="244.3" cy="221.0" r="3.7" fill="#91c251"/>
<circle cx="266.1" cy="221.0" r="3.7" fill="#7fbc59"/>
<circle cx="279.6" cy="221.0" r="3.7" fill="#7abb5b"/>
<circle cx="369.6" cy="221.1" r="3.7" fill="#81bd57"/>
<circle cx="251.6" cy="222.0" r="3.7" fill="#83bd57"/>
<circle cx="272.4" cy="222.0" r="3.7" fill="#80bc58"/>
<circle cx="362.4" cy="222.0" r="3.7" fill="#83bd57"/>
<circle cx="415.7" cy="222.8" r="3.7" fill="#a4c84b"/>
<circle cx="378.3" cy="222.9" r="3.7" fill="#90c151"/>
<circle cx="418.7" cy="223.0" r="3.7" fill="#a6c84b"/>
<circle cx="313.8" cy="223.3" r="3.7" fill="#65b568"/>
<circle cx="401.7" cy="223.5" r="3.7" fill="#97c44e"/>
<circle cx="332.3" cy="224.3" r="3.7" fill="#5ab170"/>
<circle cx="342.7" cy="224.3" r="3.7" fill="#6cb763"/>
<circle cx="418.0" cy="224.4" r="3.7" fill="#abc949"/>
<circle cx="269.3" cy="225.1" r="3.7" fill="#74b95e"/>
<circle cx="276.1" cy="225.1" r="3.7" fill="#6cb763"/>
<circle cx="247.8" cy="225.1" r="3.7" fill="#80bc58"/>
<circle cx="394.8" cy="225.4" r="3.7" fill="#8cc053"/>
<circle cx="357.2" cy="226.3" r="3.7" fill="#69b665"/>
<circle cx="367.0" cy="226.6" r="3.7" fill="#73b95f"/>
<circle cx="237.0" cy="227.2" r="3.7" fill="#85be55"/>
<circle cx="262.0" cy="227.2" r="3.7" fill="#67b666"/>
<circle cx="373.8" cy="227.4" r="3.7" fill="#7bbb5b"/>
<circle cx="382.1" cy="227.4" r="3.7" fill="#90c151"/>
<circle cx="418.2" cy="227.7" r="3.7" fill="#a9c94a"/>
<circle cx="243.3" cy="228.3" r="3.7" fill="#76ba5d"/>
<circle cx="253.7" cy="228.3" r="3.7" fill="#71b860"/>
<circle cx="269.3" cy="228.3" r="3.7" fill="#66b567"/>
<circle cx="281.7" cy="228.3" r="3.7" fill="#67b567"/>
<circle cx="406.4" cy="228.8" r="3.7" fill="#9ec64c"/>
<circle cx="415.4" cy="229.1" r="3.7" fill="#9cc54d"/>
<circle cx="273.4" cy="229.3" r="3.7" fill="#5db26e"/>
<circle cx="417.7" cy="229.5" r="3.7" fill="#94c34f"/>
<circle cx="257.8" cy="229.9" r="3.7" fill="#62b46a"/>
<circle cx="388.1" cy="230.4" r="3.7" fill="#84be56"/>
<circle cx="349.1" cy="230.7" r="3.7" fill="#52af76"/>
<circle cx="338.5" cy="231.5" r="3.7" fill="#4bae7d"/>
<circle cx="396.5" cy="231.8" r="3.7" fill="#88bf54"/>
<circle cx="230.8" cy="232.4" r="3.7" fill="#84be56"/>
<circle cx="241.2" cy="232.4" r="3.7" fill="#6db763"/>
<circle cx="255.7" cy="232.4" r="3.7" fill="#6bb764"/>
<circle cx="270.3" cy="232.4" r="3.7" fill="#59b171"/>
<circle cx="361.3" cy="232.6" r="3.7" fill="#63b469"/>
<circle cx="416.7" cy="233.1" r="3.7" fill="#99c44e"/>
<circle cx="236.0" cy="233.5" r="3.7" fill="#7fbc58"/>
<circle cx="264.1" cy="233.5" r="3.7" fill="#5fb36c"/>
<circle cx="276.5" cy="233.5" r="3.7" fill="#57b172"/>
<circle cx="293.2" cy="233.5" r="3.7" fill="#41ab88"/>
<circle cx="402.5" cy="233.9" r="3.7" fill="#95c34f"/>
<circle cx="342.7" cy="234.6" r="3.7" fill="#4dae7b"/>
<circle cx="367.6" cy="234.6" r="3.7" fill="#62b46a"/>
<circle cx="382.1" cy="234.6" r="3.7" fill="#7bbb5a"/>
<circle cx="416.2" cy="234.7" r="3.7" fill="#9fc64c"/>
<circle cx="273.4" cy="235.5" r="3.7" fill="#50af78"/>
<circle cx="267.2" cy="235.5" r="3.7" fill="#4cae7d"/>
<circle cx="311.7" cy="235.8" r="3.7" fill="#3aab8f"/>
<circle cx="233.3" cy="236.2" r="3.7" fill="#79ba5b"/>
<circle cx="414.0" cy="236.4" r="3.7" fill="#97c44e"/>
<circle cx="239.1" cy="236.6" r="3.7" fill="#78ba5c"/>
<circle cx="244.9" cy="236.6" r="3.7" fill="#6fb861"/>
<circle cx="373.8" cy="236.7" r="3.7" fill="#61b46b"/>
<circle cx="418.2" cy="236.8" r="3.7" fill="#85be55"/>
<circle cx="300.4" cy="237.6" r="3.7" fill="#32aa98"/>
<circle cx="353.0" cy="237.7" r="3.7" fill="#3cab8d"/>
<circle cx="324.2" cy="237.8" r="3.7" fill="#45ac84"/>
<circle cx="229.8" cy="238.7" r="3.7" fill="#7bbb5a"/>
<circle cx="236.0" cy="238.7" r="3.7" fill="#75b95d"/>
<circle cx="267.2" cy="238.7" r="3.7" fill="#46ac83"/>
<circle cx="289.0" cy="238.7" r="3.7" fill="#48ad80"/>
<circle cx="337.0" cy="238.8" r="3.7" fill="#2faa9b"/>
<circle cx="343.7" cy="238.8" r="3.7" fill="#35aa95"/>
<circle cx="388.3" cy="238.8" r="3.7" fill="#77ba5c"/>
<circle cx="399.2" cy="238.8" r="3.7" fill="#77ba5c"/>
<circle cx="227.9" cy="239.1" r="3.7" fill="#6cb763"/>
<circle cx="407.6" cy="239.3" r="3.7" fill="#92c250"/>
<circle cx="224.6" cy="239.7" r="3.7" fill="#73b95e"/>
<circle cx="242.2" cy="239.7" r="3.7" fill="#61b46b"/>
<circle cx="272.4" cy="239.7" r="3.7" fill="#4aad7f"/>
<circle cx="319.8" cy="239.8" r="3.7" fill="#3bab8e"/>
<circle cx="361.3" cy="239.8" r="3.7" fill="#3eab8b"/>
<circle cx="415.8" cy="240.5" r="3.7" fill="#86be55"/>
<circle cx="247.4" cy="240.7" r="3.7" fill="#5ab270"/>
<circle cx="369.7" cy="240.8" r="3.7" fill="#55b074"/>
<circle cx="227.7" cy="241.8" r="3.7" fill="#68b666"/>
<circle cx="232.9" cy="241.8" r="3.7" fill="#69b665"/>
<circle cx="224.8" cy="241.9" r="3.7" fill="#7bbb5a"/>
<circle cx="231.1" cy="242.2" r="3.7" fill="#66b567"/>
<circle cx="239.1" cy="242.4" r="3.7" fill="#61b46b"/>
<circle cx="415.2" cy="242.9" r="3.7" fill="#7fbc58"/>
<circle cx="394.2" cy="243.0" r="3.7" fill="#68b666"/>
<circle cx="415.1" cy="243.2" r="3.7" fill="#8bc053"/>
<circle cx="254.7" cy="243.9" r="3.7" fill="#45ac84"/>
<circle cx="306.7" cy="243.9" r="3.7" fill="#2baaa0"/>
<circle cx="382.1" cy="244.0" r="3.7" fill="#5fb36c"/>
<circle cx="225.6" cy="244.9" r="3.7" fill="#60b36c"/>
<circle cx="230.8" cy="244.9" r="3.7" fill="#6ab665"/>
<circle cx="243.3" cy="244.9" r="3.7" fill="#53af75"/>
<circle cx="249.5" cy="244.9" r="3.7" fill="#54b074"/>
<circle cx="268.2" cy="244.9" r="3.7" fill="#44ac84"/>
<circle cx="278.6" cy="244.9" r="3.7" fill="#39ab91"/>
<circle cx="301.5" cy="244.9" r="3.7" fill="#26aaa8"/>
<circle cx="416.3" cy="245.0" r="3.7" fill="#88bf54"/>
<circle cx="354.1" cy="245.0" r="3.7" fill="#29aaa4"/>
<circle cx="373.8" cy="245.0" r="3.7" fill="#45ac84"/>
<circle cx="402.5" cy="245.8" r="3.7" fill="#77ba5d"/>
<circle cx="237.0" cy="245.9" r="3.7" fill="#60b36c"/>
<circle cx="284.8" cy="245.9" r="3.7" fill="#3bab8e"/>
<circle cx="313.6" cy="246.1" r="3.7" fill="#1eaab7"/>
<circle cx="334.4" cy="246.1" r="3.7" fill="#1fa6cb"/>
<circle cx="343.7" cy="246.1" r="3.7" fill="#1faab5"/>
<circle cx="361.3" cy="246.1" r="3.7" fill="#2baaa1"/>
<circle cx="367.5" cy="246.1" r="3.7" fill="#43ac86"/>
<circle cx="233.9" cy="246.5" r="3.7" fill="#5ab170"/>
<circle cx="228.4" cy="246.8" r="3.7" fill="#5fb36c"/>
<circle cx="258.2" cy="247.0" r="3.7" fill="#3aab8f"/>
<circle cx="270.7" cy="247.0" r="3.7" fill="#3dab8c"/>
<circle cx="410.5" cy="247.1" r="3.7" fill="#80bc58"/>
<circle cx="228.3" cy="247.4" r="3.7" fill="#56b073"/>
<circle cx="251.6" cy="247.4" r="3.7" fill="#4eae7a"/>
<circle cx="264.5" cy="247.4" r="3.7" fill="#3dab8c"/>
<circle cx="239.2" cy="247.5" r="3.7" fill="#49ad80"/>
<circle cx="416.5" cy="247.6" r="3.7" fill="#88bf54"/>
<circle cx="245.3" cy="247.6" r="3.7" fill="#3fab8a"/>
<circle cx="390.2" cy="247.9" r="3.7" fill="#51af77"/>
<circle cx="233.3" cy="248.0" r="3.7" fill="#55b074"/>
<circle cx="276.5" cy="248.0" r="3.7" fill="#36ab93"/>
<circle cx="239.1" cy="248.6" r="3.7" fill="#4cae7d"/>
<circle cx="243.3" cy="248.9" r="3.7" fill="#47ad82"/>
<circle cx="416.2" cy="249.1" r="3.7" fill="#78ba5c"/>
<circle cx="415.8" cy="249.5" r="3.7" fill="#74b95e"/>
<circle cx="229.8" cy="250.1" r="3.7" fill="#45ac83"/>
<circle cx="247.4" cy="250.1" r="3.7" fill="#30aa9a"/>
<circle cx="253.7" cy="250.1" r="3.7" fill="#40ab89"/>
<circle cx="259.9" cy="250.1" r="3.7" fill="#3aab8f"/>
<circle cx="266.1" cy="250.1" r="3.7" fill="#30aa9a"/>
<circle cx="272.4" cy="250.1" r="3.7" fill="#36aa94"/>
<circle cx="290.0" cy="250.1" r="3.7" fill="#20aab2"/>
<circle cx="320.9" cy="250.2" r="3.7" fill="#3b8acf"/>
<circle cx="327.1" cy="250.2" r="3.7" fill="#3590d2"/>
<circle cx="302.6" cy="250.6" r="3.7" fill="#1fa8c2"/>
<circle cx="231.6" cy="250.6" r="3.7" fill="#3aab8f"/>
<circle cx="375.6" cy="250.7" r="3.7" fill="#31aa98"/>
<circle cx="251.9" cy="250.9" r="3.7" fill="#31aa99"/>
<circle cx="332.1" cy="251.1" r="3.7" fill="#2b9bd3"/>
<circle cx="234.9" cy="251.1" r="3.7" fill="#37ab92"/>
<circle cx="241.2" cy="251.1" r="3.7" fill="#33aa97"/>
<circle cx="295.2" cy="251.1" r="3.7" fill="#1fa7c4"/>
<circle cx="256.8" cy="251.4" r="3.7" fill="#34aa95"/>
<circle cx="309.0" cy="251.4" r="3.7" fill="#22a4cd"/>
<circle cx="340.9" cy="251.7" r="3.7" fill="#2e99d5"/>
<circle cx="236.0" cy="251.7" r="3.7" fill="#3cab8d"/>
<circle cx="400.1" cy="251.8" r="3.7" fill="#4eae7a"/>
<circle cx="240.6" cy="251.9" r="3.7" fill="#2caa9e"/>
<circle cx="414.0" cy="252.2" r="3.7" fill="#63b469"/>
<circle cx="385.4" cy="252.2" r="3.7" fill="#2faa9b"/>
<circle cx="247.7" cy="252.2" r="3.7" fill="#34aa96"/>
<circle cx="370.2" cy="252.7" r="3.7" fill="#29aaa4"/>
<circle cx="362.1" cy="252.8" r="3.7" fill="#1fa6ca"/>
<circle cx="394.6" cy="253.3" r="3.7" fill="#3dab8c"/>
<circle cx="410.3" cy="253.6" r="3.7" fill="#5fb36c"/>
<circle cx="269.3" cy="253.8" r="3.7" fill="#25aaaa"/>
<circle cx="285.8" cy="253.9" r="3.7" fill="#1ea9ba"/>
<circle cx="273.9" cy="254.0" r="3.7" fill="#23aaae"/>
<circle cx="324.0" cy="254.2" r="3.7" fill="#407dc9"/>
<circle cx="263.5" cy="254.4" r="3.7" fill="#1ea9bc"/>
<circle cx="349.8" cy="254.6" r="3.7" fill="#3f82cc"/>
<circle cx="281.3" cy="254.9" r="3.7" fill="#1fa6ca"/>
<circle cx="285.2" cy="254.9" r="3.7" fill="#1fa7c7"/>
<circle cx="243.3" cy="255.0" r="3.7" fill="#21aab1"/>
<circle cx="251.9" cy="255.0" r="3.7" fill="#1ea9b9"/>
<circle cx="413.5" cy="255.2" r="3.7" fill="#59b171"/>
<circle cx="301.9" cy="255.7" r="3.7" fill="#2f98d5"/>
<circle cx="334.5" cy="256.2" r="3.7" fill="#4176c5"/>
<circle cx="415.4" cy="256.2" r="3.7" fill="#61b46b"/>
<circle cx="316.3" cy="256.2" r="3.7" fill="#3d87ce"/>
<circle cx="292.7" cy="256.5" r="3.7" fill="#24a2ce"/>
<circle cx="255.7" cy="256.6" r="3.7" fill="#1ea9bd"/>
<circle cx="404.8" cy="256.6" r="3.7" fill="#4bae7d"/>
<circle cx="307.2" cy="257.0" r="3.7" fill="#3d87ce"/>
<circle cx="389.3" cy="257.0" r="3.7" fill="#2aaaa1"/>
<circle cx="305.8" cy="257.1" r="3.7" fill="#3591d2"/>
<circle cx="278.0" cy="257.3" r="3.7" fill="#1fa7c8"/>
<circle cx="365.8" cy="257.3" r="3.7" fill="#26a0cf"/>
<circle cx="345.2" cy="257.6" r="3.7" fill="#3f83cc"/>
<circle cx="268.7" cy="257.7" r="3.7" fill="#1fa6cb"/>
<circle cx="382.9" cy="257.8" r="3.7" fill="#1ea9ba"/>
<circle cx="358.1" cy="257.8" r="3.7" fill="#3393d3"/>
<circle cx="259.8" cy="258.0" r="3.7" fill="#23a3ce"/>
<circle cx="414.7" cy="258.0" r="3.7" fill="#58b171"/>
<circle cx="287.4" cy="258.2" r="3.7" fill="#2b9cd3"/>
<circle cx="296.4" cy="258.3" r="3.7" fill="#398cd0"/>
<circle cx="272.7" cy="258.5" r="3.7" fill="#23a3cd"/>
<circle cx="283.1" cy="258.6" r="3.7" fill="#2b9bd3"/>
<circle cx="326.9" cy="258.6" r="3.7" fill="#426cbd"/>
<circle cx="320.8" cy="258.7" r="3.7" fill="#4270c1"/>
<circle cx="246.9" cy="258.7" r="3.7" fill="#25a1cf"/>
<circle cx="312.2" cy="258.9" r="3.7" fill="#4176c5"/>
<circle cx="301.5" cy="259.0" r="3.7" fill="#3e84cd"/>
<circle cx="395.8" cy="259.4" r="3.7" fill="#28aaa5"/>
<circle cx="321.3" cy="259.4" r="3.7" fill="#426ec0"/>
<circle cx="413.1" cy="260.0" r="3.7" fill="#52af76"/>
<circle cx="252.7" cy="260.4" r="3.7" fill="#1fa7c6"/>
<circle cx="307.9" cy="260.7" r="3.7" fill="#426cbe"/>
<circle cx="373.7" cy="260.8" r="3.7" fill="#26a0d0"/>
<circle cx="331.4" cy="261.1" r="3.7" fill="#4270c1"/>
<circle cx="337.1" cy="261.3" r="3.7" fill="#4167b9"/>
<circle cx="262.1" cy="261.8" r="3.7" fill="#2b9bd3"/>
<circle cx="413.9" cy="261.9" r="3.7" fill="#39ab90"/>
<circle cx="330.3" cy="262.0" r="3.7" fill="#4165b8"/>
<circle cx="367.2" cy="262.1" r="3.7" fill="#3591d2"/>
<circle cx="353.6" cy="262.1" r="3.7" fill="#407bc8"/>
<circle cx="318.1" cy="262.2" r="3.7" fill="#4165b8"/>
<circle cx="278.2" cy="262.2" r="3.7" fill="#2c9bd3"/>
<circle cx="266.5" cy="262.3" r="3.7" fill="#2c9bd3"/>
<circle cx="334.8" cy="262.4" r="3.7" fill="#4166b8"/>
<circle cx="272.3" cy="262.4" r="3.7" fill="#2a9cd3"/>
<circle cx="287.4" cy="262.6" r="3.7" fill="#3e84cd"/>
<circle cx="360.0" cy="262.6" r="3.7" fill="#3c89cf"/>
<circle cx="379.7" cy="262.6" r="3.7" fill="#2c9bd3"/>
<circle cx="326.3" cy="263.0" r="3.7" fill="#426cbe"/>
<circle cx="291.9" cy="263.0" r="3.7" fill="#4179c7"/>
<circle cx="412.7" cy="263.1" r="3.7" fill="#3eab8b"/>
<circle cx="296.9" cy="263.2" r="3.7" fill="#3f80cb"/>
<circle cx="282.7" cy="263.3" r="3.7" fill="#3590d2"/>
<circle cx="314.5" cy="263.7" r="3.7" fill="#4165b7"/>
<circle cx="346.7" cy="264.0" r="3.7" fill="#4269bb"/>
<circle cx="391.5" cy="264.1" r="3.7" fill="#21a5cc"/>
<circle cx="412.6" cy="264.1" r="3.7" fill="#2baaa1"/>
<circle cx="373.0" cy="264.5" r="3.7" fill="#3f7fca"/>
<circle cx="402.2" cy="264.5" r="3.7" fill="#1fa8c2"/>
<circle cx="385.4" cy="264.7" r="3.7" fill="#3492d2"/>
<circle cx="322.6" cy="264.9" r="3.7" fill="#415db0"/>
<circle cx="338.2" cy="265.1" r="3.7" fill="#4165b8"/>
<circle cx="342.6" cy="265.1" r="3.7" fill="#4166b9"/>
<circle cx="275.2" cy="265.5" r="3.7" fill="#398cd0"/>
<circle cx="330.0" cy="266.0" r="3.7" fill="#4165b7"/>
<circle cx="305.3" cy="266.0" r="3.7" fill="#4269bb"/>
<circle cx="364.3" cy="266.2" r="3.7" fill="#4273c3"/>
<circle cx="300.7" cy="266.2" r="3.7" fill="#426bbd"/>
<circle cx="356.0" cy="266.9" r="3.7" fill="#426dbf"/>
<circle cx="311.6" cy="267.2" r="3.7" fill="#415fb2"/>
<circle cx="355.3" cy="267.3" r="3.7" fill="#4162b5"/>
<circle cx="334.8" cy="267.6" r="3.7" fill="#4168ba"/>
<circle cx="293.2" cy="267.6" r="3.7" fill="#4177c6"/>
<circle cx="348.0" cy="267.7" r="3.7" fill="#415bae"/>
<circle cx="287.4" cy="267.8" r="3.7" fill="#4175c4"/>
<circle cx="411.6" cy="267.9" r="3.7" fill="#21aab0"/>
<circle cx="380.0" cy="268.0" r="3.7" fill="#3f81cb"/>
<circle cx="326.5" cy="268.4" r="3.7" fill="#405aad"/>
<circle cx="320.0" cy="269.1" r="3.7" fill="#3f51a4"/>
<circle cx="368.9" cy="269.2" r="3.7" fill="#426cbd"/>
<circle cx="394.2" cy="269.4" r="3.7" fill="#3492d3"/>
<circle cx="387.2" cy="269.5" r="3.7" fill="#4177c6"/>
<circle cx="409.7" cy="269.6" r="3.7" fill="#1fa7c4"/>
<circle cx="315.2" cy="269.7" r="3.7" fill="#4057aa"/>
<circle cx="297.0" cy="269.8" r="3.7" fill="#4168ba"/>
<circle cx="362.6" cy="269.9" r="3.7" fill="#4163b6"/>
<circle cx="407.7" cy="270.3" r="3.7" fill="#24a2ce"/>
<circle cx="341.4" cy="270.4" r="3.7" fill="#4053a6"/>
<circle cx="302.3" cy="270.5" r="3.7" fill="#415fb2"/>
<circle cx="331.1" cy="270.5" r="3.7" fill="#4057aa"/>
<circle cx="358.0" cy="270.5" r="3.7" fill="#415db0"/>
<circle cx="400.0" cy="270.5" r="3.7" fill="#3690d2"/>
<circle cx="350.6" cy="270.8" r="3.7" fill="#4053a6"/>
<circle cx="374.4" cy="271.1" r="3.7" fill="#4166b8"/>
<circle cx="308.8" cy="271.3" r="3.7" fill="#415db0"/>
<circle cx="323.3" cy="271.3" r="3.7" fill="#4054a7"/>
<circle cx="336.1" cy="271.6" r="3.7" fill="#415db0"/>
<circle cx="411.5" cy="271.8" r="3.7" fill="#299ed1"/>
<circle cx="345.4" cy="271.9" r="3.7" fill="#4052a5"/>
<circle cx="327.3" cy="272.4" r="3.7" fill="#4056a9"/>
<circle cx="366.1" cy="272.9" r="3.7" fill="#405bae"/>
<circle cx="313.1" cy="273.1" r="3.7" fill="#4164b7"/>
<circle cx="400.8" cy="274.0" r="3.7" fill="#4274c4"/>
<circle cx="379.5" cy="274.1" r="3.7" fill="#415eb1"/>
<circle cx="339.2" cy="274.1" r="3.7" fill="#4053a6"/>
<circle cx="371.4" cy="274.3" r="3.7" fill="#415db0"/>
<circle cx="393.8" cy="274.3" r="3.7" fill="#426ec0"/>
<circle cx="319.8" cy="274.5" r="3.7" fill="#3f50a3"/>
<circle cx="410.1" cy="274.6" r="3.7" fill="#3b8acf"/>
<circle cx="386.3" cy="274.9" r="3.7" fill="#415db0"/>
<circle cx="359.5" cy="275.2" r="3.7" fill="#415caf"/>
<circle cx="349.0" cy="275.5" r="3.7" fill="#3d489b"/>
<circle cx="331.6" cy="275.6" r="3.7" fill="#415bae"/>
<circle cx="355.5" cy="275.7" r="3.7" fill="#4053a6"/>
<circle cx="380.6" cy="275.7" r="3.7" fill="#4166b8"/>
<circle cx="363.2" cy="276.4" r="3.7" fill="#4053a6"/>
<circle cx="326.6" cy="276.5" r="3.7" fill="#3f4fa2"/>
<circle cx="376.1" cy="276.7" r="3.7" fill="#4056a9"/>
<circle cx="407.2" cy="277.0" r="3.7" fill="#3f80cb"/>
<circle cx="409.1" cy="277.7" r="3.7" fill="#407cc8"/>
<circle cx="342.9" cy="278.1" r="3.7" fill="#3d4698"/>
<circle cx="397.2" cy="278.1" r="3.7" fill="#4058ab"/>
<circle cx="367.4" cy="278.7" r="3.7" fill="#4055a8"/>
<circle cx="391.3" cy="278.8" r="3.7" fill="#415fb2"/>
<circle cx="388.6" cy="279.1" r="3.7" fill="#4056a9"/>
<circle cx="384.5" cy="279.1" r="3.7" fill="#3e4a9d"/>
<circle cx="371.9" cy="279.1" r="3.7" fill="#3e489b"/>
<circle cx="352.6" cy="279.2" r="3.7" fill="#3c4295"/>
<circle cx="337.1" cy="279.4" r="3.7" fill="#3e499c"/>
<circle cx="346.5" cy="279.6" r="3.7" fill="#393b8d"/>
<circle cx="357.5" cy="279.8" r="3.7" fill="#3c4497"/>
<circle cx="408.1" cy="280.2" r="3.7" fill="#426bbd"/>
<circle cx="380.6" cy="280.6" r="3.7" fill="#4053a6"/>
<circle cx="403.5" cy="280.8" r="3.7" fill="#4058ab"/>
<circle cx="362.5" cy="281.1" r="3.7" fill="#4052a5"/>
<circle cx="406.9" cy="282.2" r="3.7" fill="#415caf"/>
<circle cx="390.4" cy="282.8" r="3.7" fill="#3e4b9e"/>
<circle cx="409.2" cy="283.2" r="3.7" fill="#4164b6"/>
<circle cx="377.5" cy="283.4" r="3.7" fill="#3e4a9c"/>
<circle cx="394.3" cy="283.4" r="3.7" fill="#3a3c8f"/>
<circle cx="371.3" cy="283.5" r="3.7" fill="#3a3e91"/>
<circle cx="399.2" cy="284.1" r="3.7" fill="#3d489a"/>
<circle cx="359.3" cy="284.1" r="3.7" fill="#3f4c9f"/>
<circle cx="352.5" cy="284.3" r="3.7" fill="#3a3d8f"/>
<circle cx="365.3" cy="284.6" r="3.7" fill="#3a3e90"/>
<circle cx="405.1" cy="284.7" r="3.7" fill="#4053a6"/>
<circle cx="406.4" cy="284.9" r="3.7" fill="#3e489b"/>
<circle cx="409.1" cy="285.1" r="3.7" fill="#4052a5"/>
<circle cx="384.1" cy="286.3" r="3.7" fill="#373685"/>
<circle cx="388.8" cy="286.7" r="3.7" fill="#393a8b"/>
<circle cx="378.1" cy="287.3" r="3.7" fill="#3a3e90"/>
<circle cx="362.1" cy="287.4" r="3.7" fill="#383888"/>
<circle cx="393.5" cy="287.5" r="3.7" fill="#383787"/>
<circle cx="371.2" cy="287.9" r="3.7" fill="#393a8c"/>
<circle cx="405.8" cy="288.0" r="3.7" fill="#3d4698"/>
<circle cx="397.7" cy="288.1" r="3.7" fill="#35327e"/>
<circle cx="367.1" cy="288.4" r="3.7" fill="#3b3f92"/>
<circle cx="403.4" cy="288.6" r="3.7" fill="#363583"/>
<circle cx="408.0" cy="289.5" r="3.7" fill="#3a3d90"/>
<circle cx="405.0" cy="290.2" r="3.7" fill="#342f79"/>
<circle cx="385.5" cy="290.2" r="3.7" fill="#35317d"/>
<circle cx="375.0" cy="290.3" r="3.7" fill="#34317b"/>
<circle cx="379.6" cy="291.6" r="3.7" fill="#30296d"/>
<circle cx="395.1" cy="291.6" r="3.7" fill="#2b1f5a"/>
<circle cx="390.6" cy="291.9" r="3.7" fill="#30286d"/>
<circle cx="398.8" cy="293.0" r="3.7" fill="#2b1f58"/>
<circle cx="403.9" cy="293.2" r="3.7" fill="#2f2769"/>
<circle cx="404.9" cy="294.5" r="3.7" fill="#2c205b"/>
<circle cx="392.8" cy="295.4" r="3.7" fill="#2a1d54"/>
<circle cx="400.5" cy="296.0" r="3.7" fill="#21153f"/>
<circle cx="387.7" cy="296.1" r="3.7" fill="#2d225f"/>
<circle cx="396.6" cy="296.3" r="3.7" fill="#21143e"/>
<circle cx="402.8" cy="297.0" r="3.7" fill="#241745"/>
<circle cx="393.5" cy="297.2" r="3.7" fill="#291d54"/>
<circle cx="398.5" cy="298.6" r="3.7" fill="#231642"/>
<circle cx="401.5" cy="298.7" r="3.7" fill="#1d1135"/>
<circle cx="403.2" cy="300.6" r="3.7" fill="#1d1135"/>
</g>
<g id="arrows">
<line x1="367.8" y1="212" x2="52.17" y2="111.06" class="ar"/>
<path d="M47.6 109.6L55.46 108.65L52.17 111.06L53.45 114.94Z" fill="#2a1718"/>
<line x1="222.5" y1="241.5" x2="52.27" y2="282.48" class="ar"/>
<path d="M47.6 283.6L53.83 278.71L52.27 282.48L55.37 285.12Z" fill="#2a1718"/>
<line x1="373" y1="18.9" x2="560.8" y2="18.7" class="ar"/>
<path d="M565.6 18.7L558.4 22.01L560.8 18.7L558.4 15.41Z" fill="#2a1718"/>
<line x1="404" y1="302.4" x2="564.4" y2="302.4" class="ar"/>
<path d="M569.2 302.4L562 305.7L564.4 302.4L562 299.1Z" fill="#2a1718"/>
</g>
<g id="boxes">
<rect x="0.5" y="13.8" width="46" height="120.4" class="bx"/>
<rect x="1" y="22.2" width="45" height="5.2" fill="#bbbdbf" stroke="#85878a" stroke-width="0.7"/>
<rect x="1" y="119.2" width="45" height="5.6" fill="#bbbdbf" stroke="#85878a" stroke-width="0.7"/>
<rect x="22.4" y="27.4" width="2.5" height="91.8" fill="#9c9ea0" stroke="#7a7c7e" stroke-width="0.5"/>
<rect x="24.9" y="72" width="21.1" height="2.4" fill="#c4c6c8" stroke="#808284" stroke-width="0.5"/>
<rect x="0.5" y="202.6" width="46" height="136" class="bx"/>
<rect x="1" y="211.2" width="45" height="5.4" fill="#bbbdbf" stroke="#85878a" stroke-width="0.7"/>
<rect x="1" y="325.3" width="45" height="5.2" fill="#bbbdbf" stroke="#85878a" stroke-width="0.7"/>
<path d="M23.3 216.6 C23.6 235 25 250 25 271 C25 290 23.4 305 23.4 325.3" fill="none" stroke="#5a5c5e" stroke-width="1.1"/>
<rect x="25.2" y="269.5" width="20.8" height="3.1" fill="#bfc1c3" stroke="#8e9092" stroke-width="0.5"/>
<rect x="566.7" y="14.7" width="46.1" height="133" class="bx"/>
<path d="M567.2 24.7H612.3V30.4H580.6L601.8 80.2H612.3V82.4H601.8L580.6 133.2H612.3V138.7H567.2V133.2H572.6L594 81.3L573.4 30.4H567.2Z" fill="#bbbdbf" stroke="#85878a" stroke-width="0.7"/>
<rect x="570.1" y="204.1" width="46.2" height="134.5" class="bx"/>
<rect x="570.6" y="211.3" width="45.2" height="5.7" fill="#bbbdbf" stroke="#85878a" stroke-width="0.7"/>
<rect x="570.6" y="325.3" width="45.2" height="5.4" fill="#bbbdbf" stroke="#85878a" stroke-width="0.7"/>
<path d="M594 217V325.3" fill="none" stroke="#5a5c5e" stroke-width="1.15"/>
<rect x="594" y="270" width="21.8" height="2.3" fill="#d0d2d4" stroke="#77797b" stroke-width="0.6"/>
</g>
<g id="labels">
<text x="58" y="32.9"><tspan class="i">L</tspan><tspan class="sb" dy="2.2">s</tspan><tspan dy="-2.2"> </tspan>= 91.12 μm</text>
<text x="58" y="46.8"><tspan class="i">w</tspan><tspan class="sb" dy="2.2">s</tspan><tspan dy="-2.2"> </tspan>= 1.76 μm</text>
<text x="58" y="60.7"><tspan class="th">θ</tspan> = 0 rad</text>
<text x="58" y="74.6"><tspan class="i">h</tspan> = 70.38 nm</text>
<text x="58" y="218.2"><tspan class="i">L</tspan><tspan class="sb" dy="2.2">s</tspan><tspan dy="-2.2"> </tspan>= 100 μm</text>
<text x="58" y="232"><tspan class="i">w</tspan><tspan class="sb" dy="2.2">s</tspan><tspan dy="-2.2"> </tspan>= 1 μm</text>
<text x="58" y="246"><tspan class="th">θ</tspan> = 0.03 rad</text>
<text x="58" y="259.8"><tspan class="i">h</tspan> = 40 nm</text>
<text x="624" y="53.5"><tspan class="i">L</tspan><tspan class="sb" dy="2.2">s</tspan><tspan dy="-2.2"> </tspan>= 100 μm</text>
<text x="624" y="67.3"><tspan class="i">w</tspan><tspan class="sb" dy="2.2">s</tspan><tspan dy="-2.2"> </tspan>= 7 μm</text>
<text x="624" y="81.1"><tspan class="th">θ</tspan> = 0.40 rad</text>
<text x="624" y="95"><tspan class="i">h</tspan> = 340 nm</text>
<text x="624" y="245.2"><tspan class="i">L</tspan><tspan class="sb" dy="2.2">s</tspan><tspan dy="-2.2"> </tspan>= 100 μm</text>
<text x="624" y="258.8"><tspan class="i">w</tspan><tspan class="sb" dy="2.2">s</tspan><tspan dy="-2.2"> </tspan>= 1 μm</text>
<text x="624" y="272.3"><tspan class="th">θ</tspan> = 0 rad</text>
<text x="624" y="285.9"><tspan class="i">h</tspan> = 40 nm</text>
<text x="114" y="180.2"><tspan class="i">P</tspan> (W)</text>
<text x="151.6" y="51.6" class="tl">10<tspan class="ex" dy="-4.9">−13</tspan></text>
<text x="151.6" y="134.2" class="tl">10<tspan class="ex" dy="-4.9">−15</tspan></text>
<text x="151.6" y="216.8" class="tl">10<tspan class="ex" dy="-4.9">−17</tspan></text>
<text x="151.6" y="296.6" class="tl">10<tspan class="ex" dy="-4.9">−19</tspan></text>
<text x="173.6" y="312" class="tl">0</text>
<text x="214.6" y="333.2" class="tl">2</text>
<text x="255.1" y="351.2" class="tl">4</text>
<text x="296" y="372" class="tl">6</text>
<text x="535.4" y="330" class="tl">0</text>
<text x="491.8" y="345.6" class="tl">0.5</text>
<text x="454.5" y="355.8" class="tl">1.0</text>
<text x="415.8" y="364.3" class="tl">1.5</text>
<text x="376" y="374.6" class="tl">2.0</text>
<text x="337" y="385.6" class="tl">2.5</text>
<text x="139.2" y="360.6">σ<tspan class="i sb" dy="2.2">y</tspan><tspan dy="-2.2"> (τ = 1s) (×10</tspan><tspan class="ex" dy="-4.6">−8</tspan><tspan dy="4.6">)</tspan></text>
<text x="457" y="375.4" transform="rotate(-12.5 457 375.4)">τ<tspan class="sb" dy="2.4">1</tspan><tspan dy="-2.4">(s)</tspan></text>
</g>
</svg>
</body></html>
